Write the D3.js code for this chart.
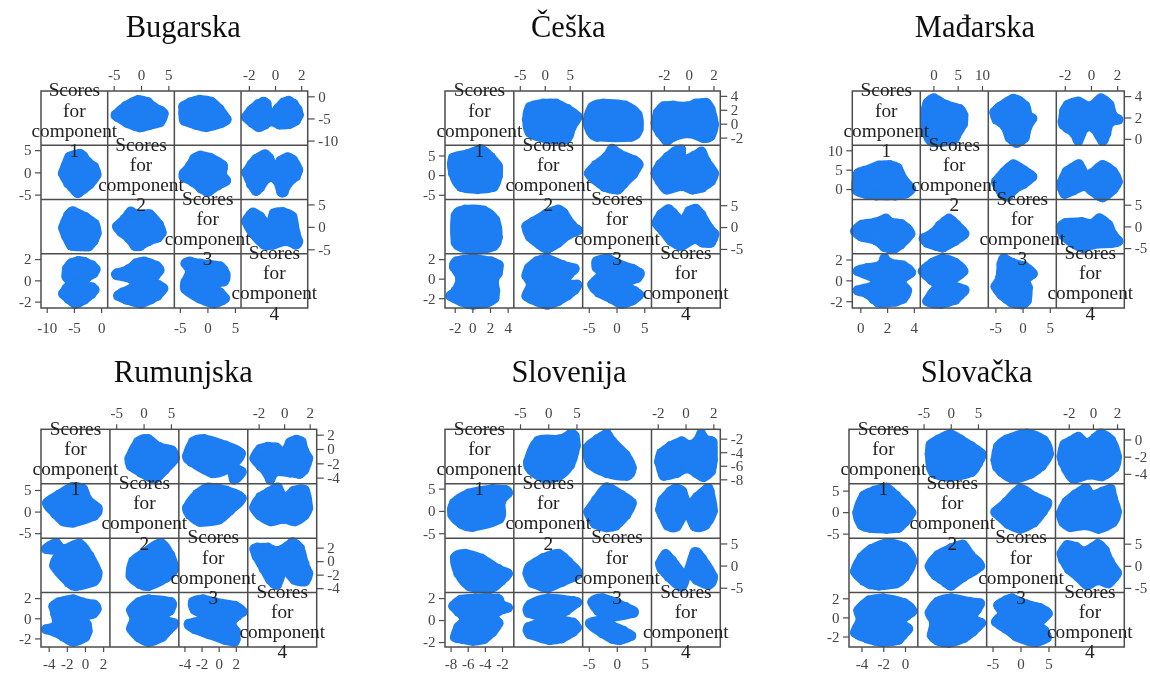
<!DOCTYPE html>
<html><head><meta charset="utf-8">
<script src="https://cdn.jsdelivr.net/npm/d3@7"></script>
<style>html,body{margin:0;padding:0;background:#fff}svg{display:block}</style>
</head><body><div id="chart"></div>
<script>
const titles = ["Bugarska","Češka","Mađarska","Rumunjska","Slovenija","Slovačka"];
const labelLines = ["Scores","for","component"];
const components = [1,2,3,4];

// Component ranges and tick labels per country
const bugarskaDomains = [[-11.05,1.2],[-6.1,6.1],[-6,6.1],[-2.6,2.5]];
const ceskaDomains = [[-3.1,4.7],[-6.2,7.6],[-6.1,6.3],[-3,2.55]];
const madarskaDomains = [[-0.6,4.48],[-2.7,11.3],[-6.3,6.2],[-2.65,2.55]];
const rumunjskaDomains = [[-4.85,2.75],[-6.15,6.45],[-4.65,3.4],[-2.85,2.55]];
const slovenijaDomains = [[-8.65,-0.62],[-6.1,6.1],[-6.1,6.2],[-2.45,2.5]];
const slovackaDomains = [[-5.15,1.18],[-6.05,6.6],[-6.05,6.25],[-3.1,2.6]];

const bugarskaTicks = [[-10,-5,0],[-5,0,5],[-5,0,5],[-2,0,2]];
const ceskaTicks = [[-2,0,2,4],[-5,0,5],[-5,0,5],[-2,0,2]];
const madarskaTicks = [[0,2,4],[0,5,10],[-5,0,5],[-2,0,2]];
const rumunjskaTicks = [[-4,-2,0,2],[-5,0,5],[-4,-2,0,2],[-2,0,2]];
const slovenijaTicks = [[-8,-6,-4,-2],[-5,0,5],[-5,0,5],[-2,0,2]];
const slovackaTicks = [[-4,-2,0],[-5,0,5],[-5,0,5],[-2,0,2]];

// Outline of each score cloud: [later component, earlier component]
const bugarska12 = [[-4.64,-4.17],[-2.74,-2.12],[-0.54,-0.83],[1.25,-1.29],[2.32,-2.42],[3.63,-3.26],[4.17,-3.94],[3.5,-5.83],[1.55,-6.52],[-0.24,-7.05],[-2.5,-6.06],[-4.29,-4.7]];
const bugarska13 = [[-4.4,-2.3],[-3.2,-1.4],[-1.4,-0.8],[0.7,-1.2],[2.2,-2.9],[3.5,-5.2],[2.5,-6.1],[-0.2,-7],[-2,-6.5],[-4.2,-5.5],[-4.4,-3.8]];
const bugarska14 = [[-2.22,-4.7],[-1.83,-3.1],[-1.31,-1.8],[-0.89,-1.2],[-0.64,-1.7],[-0.57,-2.9],[-0.27,-4.5],[0.22,-2.7],[0.64,-1.4],[1.04,-1],[1.43,-1.7],[1.73,-3],[1.83,-4.2],[1.6,-5.5],[1.09,-6.3],[0.35,-6.4],[-0.27,-5.7],[-0.77,-6.4],[-1.26,-7],[-1.75,-6]];
const bugarska23 = [[-4.3,-0.2],[-3.2,1.4],[-2.4,3.1],[-1.3,3.8],[0.5,3.3],[2.8,1.6],[2.7,-0.5],[3.4,-1.9],[1.8,-3],[0.1,-4.4],[-1.2,-3.6],[-2.6,-2.2],[-4.3,-1.1]];
const bugarska24 = [[-2.2,0],[-1.8,1.8],[-1.46,3],[-0.77,4.1],[-0.44,3.2],[0,1],[0.42,2.6],[0.96,3.4],[1.38,2.8],[1.78,0.6],[1.6,-0.9],[1.04,-2.3],[0.67,-4.4],[0.47,-4.4],[0.1,-1.7],[-0.57,-1.3],[-1.14,-3.4],[-1.46,-4.2],[-1.83,-2.7],[-2,-1.4]];
const bugarska34 = [[-2.2,1.2],[-1.88,2.7],[-1.68,3.2],[-1.14,2.3],[-0.44,0.2],[-0.1,3],[0.59,3.3],[1.33,2.3],[1.58,-1.3],[1.78,-3.2],[1.58,-4],[0.84,-3.2],[-0.15,-4],[-0.84,-4],[-1.7,-1.5]];

const ceska12 = [[-3.6,0.6],[-3,2.4],[-0.3,2.9],[2.3,2.9],[4.6,2.1],[6.6,1],[5.4,-0.5],[4.4,-2.2],[0.4,-2.2],[-3,-1.3]];
const ceska13 = [[-5.3,0.3],[-4.4,2.4],[-2.3,2.9],[1.6,2.6],[3.8,1.3],[4,-0.8],[2.6,-1.9],[-3.5,-1.9],[-4.7,-1.1]];
const ceska14 = [[-2.68,0.1],[-2.49,1.6],[-2.03,2.5],[-1.25,2.6],[-0.08,2.5],[0.57,2.9],[1.4,3],[1.77,2.1],[2.05,-0.1],[1.77,-1.8],[1.22,-2.1],[0.05,-1.4],[-1.25,-1.9],[-1.77,-2.5],[-2.34,-1.3],[-2.55,-0.6]];
const ceska23 = [[-5,0.5],[-3.7,2.6],[-1.8,4.7],[-0.8,6.7],[0.4,5.5],[3.2,3.8],[4,2.7],[3,0.2],[1.3,-2.2],[0.2,-3.7],[-2.2,-3],[-4,-1.1]];
const ceska24 = [[-2.68,0.5],[-2.31,2.7],[-1.71,4.6],[-1.14,6],[-0.6,6.5],[-0.52,3.9],[0.44,4.9],[1.04,6],[1.4,3.6],[2.05,0.5],[1.79,-1.6],[1.09,-3.2],[0.31,-3.7],[-0.6,-2.8],[-1.77,-3.7],[-2.34,-1.6]];
const ceska34 = [[-2.6,0.9],[-2.23,2.9],[-1.64,4.1],[-1.25,3.2],[-0.52,1.5],[0.05,3.7],[0.57,4.2],[1.01,2.9],[1.66,-0.2],[2.08,-1.6],[1.79,-3.6],[1.14,-3.6],[0.44,-2.8],[-0.6,-4.4],[-1.43,-3.2],[-2.08,-0.9]];

const madarska12 = [[-1.7,2.6],[-1.2,3.4],[0.1,3.8],[2.6,3.2],[5.4,2.8],[6.2,2.2],[6.1,1.4],[4.7,0.3],[3.9,-0.2],[-0.3,-0.3],[-1.3,0.4],[-1.7,1.2]];
const madarska13 = [[-5.2,2.5],[-4.2,3],[-1.7,3.75],[0.5,3.1],[1,2.2],[1.8,1.9],[0.9,1.1],[0.4,0.1],[-1.1,-0.4],[-2.4,0.1],[-3.3,1.2],[-4.8,1.8]];
const madarska14 = [[-2.18,1.6],[-2.06,2.6],[-1.77,3.2],[-0.96,3.5],[-0.22,3.05],[0.2,3.2],[0.76,3.8],[1.42,3.2],[1.67,2.2],[2.11,1.8],[1.45,1.5],[1.18,0.5],[0.88,-0.2],[0.2,1],[-0.47,1],[-0.96,-0.2],[-1.28,0.5],[-1.82,1],[-2.11,1.3]];
const madarska23 = [[-4.9,1.9],[-3.4,4.4],[-1.7,6.4],[0.3,4.8],[1.8,3.2],[0.2,1.3],[-1.5,-0.1],[-2.7,-2],[-3.8,-1.3],[-4.5,0.5]];
const madarska24 = [[-2.26,1.6],[-1.87,4.5],[-1.45,5.4],[-0.91,6.4],[-0.42,3.7],[0.07,4.1],[0.88,6.2],[1.69,4.5],[2.06,1.9],[1.69,-0.2],[0.88,-2.2],[0.02,-0.4],[-0.47,0.7],[-1.33,-0.4],[-2.01,-1.3],[-2.21,0.1]];
const madarska34 = [[-2.31,-0.2],[-1.94,0.8],[-0.71,1],[0.07,0.6],[0.64,1.9],[1.33,0.4],[1.67,-1.8],[2.11,-3.4],[1.57,-3.9],[0.15,-4.2],[-0.59,-5],[-1.4,-3.9],[-2.11,-2.1]];

const rumunjska12 = [[-2.6,-1.3],[-1,1],[0.8,1.4],[2.8,0.3],[5.2,-0.2],[5.7,-1.4],[3.9,-2.9],[2,-4.2],[-0.5,-3.3],[-2.3,-2.4]];
const rumunjska13 = [[-3.7,-1],[-3,1],[-1.7,1.4],[0.8,0.5],[2.6,-0.6],[1.8,-2.4],[2.7,-3.2],[1.8,-4.3],[1.3,-2.9],[-0.7,-3.4],[-3.2,-1.8]];
const rumunjska14 = [[-2.34,-1.3],[-1.89,0],[-1.29,0.3],[-0.6,0.2],[0,-0.5],[0.45,0.9],[0.94,1.3],[1.37,1],[1.59,-0.3],[1.89,-1.3],[1.59,-2.9],[1.19,-3.5],[0.45,-3.3],[-0.67,-3.2],[-1.09,-4.3],[-1.34,-3.4],[-1.84,-2.4]];
const rumunjska23 = [[-3.7,0.9],[-2.5,4.1],[-1.2,5.6],[0.9,4.9],[2.7,3.1],[1.3,0.2],[0,-1.9],[-2.2,-2.4],[-3.4,-0.7]];
const rumunjska24 = [[-2.36,0.9],[-1.86,3.4],[-1.17,4.6],[-0.5,5.6],[0,3],[0.75,4.8],[1.61,5],[1.89,0.9],[1.59,-0.9],[0.82,-2.3],[-0.05,-1.7],[-1.04,-2.3],[-1.91,-0.9]];
const rumunjska34 = [[-2.34,1.8],[-2.09,2],[-1.29,2],[-0.55,1.5],[0.25,2.2],[0.65,2.8],[1.24,1.9],[1.59,-0.4],[1.89,-1.8],[1.64,-3],[0.82,-2.8],[0,-1.3],[-0.55,-3.5],[-1.09,-2.8],[-1.59,-1.2],[-2.16,0.7]];

const slovenija12 = [[-3.6,-5.4],[-1.8,-2.3],[2,-2.1],[4,-1.3],[4.7,-1.6],[4.9,-3.1],[3.9,-5.9],[1.8,-7.6],[-0.9,-7.8],[-3,-6.7]];
const slovenija13 = [[-5.3,-3.4],[-3.5,-2.1],[-1.8,-1.3],[-0.8,-2.4],[1.6,-4.4],[2.7,-6.3],[1.8,-7.5],[-1.8,-7.1],[-4.7,-5.8]];
const slovenija14 = [[-1.91,-5.4],[-1.74,-4.1],[-1.09,-3.1],[-0.28,-2.4],[0.19,-2.9],[0.81,-2.4],[1.12,-1.3],[1.47,-2.2],[1.95,-2.5],[1.98,-5.1],[1.84,-6.8],[1.28,-7.7],[0.77,-7.1],[0.07,-6.4],[-0.63,-7.1],[-1.56,-7.5],[-1.74,-6.6]];
const slovenija23 = [[-5.1,-0.1],[-3.7,2.5],[-1.8,5.3],[0.8,3.6],[2.7,1.8],[1.7,-0.9],[-0.2,-3.3],[-1.8,-3.7],[-3.9,-2.9],[-4.7,-1.3]];
const slovenija24 = [[-1.84,0.3],[-1.67,2.4],[-1.09,4.4],[-0.7,5.1],[-0.23,4.4],[0.19,1.3],[0.84,3.2],[1.58,5.1],[1.74,4.4],[1.98,0],[1.42,-3.2],[0.65,-3.5],[0.07,-0.3],[-0.63,-3.5],[-1.28,-3.3],[-1.67,-1]];
const slovenija34 = [[-1.84,0.5],[-1.44,2.6],[-0.98,1.2],[0,-1.9],[0.65,3],[1.19,1.6],[1.98,-2.5],[1.65,-4.4],[0.81,-3.3],[0.19,-1.7],[-0.28,-4.8],[-1.21,-2.6],[-1.72,-0.8]];

const slovacka12 = [[-3.9,-1.7],[-3.7,-0.6],[-2.3,0],[-0.1,0.6],[1.8,0],[3.8,-0.8],[5.7,-1.7],[5,-2.8],[3.8,-3.8],[-0.1,-4.4],[-3,-4],[-3.7,-3.2]];
const slovacka13 = [[-4.5,-2.4],[-4,-0.8],[-2.5,0],[1.1,0.7],[4.2,-0.1],[5.1,-1.7],[3.8,-3.1],[1.9,-4],[-1.3,-4.6],[-3.4,-3.8],[-4.2,-3.2]];
const slovacka14 = [[-2.61,-2],[-2.37,-0.6],[-1.87,-0.2],[-1.2,0.3],[-0.53,-0.4],[0.19,0.2],[0.67,0.7],[1.52,-0.1],[2,-2],[1.79,-3.3],[0.75,-4.3],[-0.27,-4.1],[-1.6,-4.6],[-2.21,-3.5],[-2.48,-2.7]];
const slovacka23 = [[-4.5,0.1],[-2.6,2.3],[-0.1,5.4],[2.5,3.6],[4.8,2.2],[4,0.1],[2.4,-2.4],[-0.1,-3.9],[-2.2,-2.8],[-3.8,-0.9]];
const slovacka24 = [[-2.67,-0.3],[-2.19,2.4],[-1.47,4.1],[-0.59,5.6],[-0.13,4],[0.8,4.8],[1.47,5.4],[1.65,3.4],[2,0.1],[1.65,-2.4],[0.48,-3.9],[-0.53,-3.1],[-1.87,-3.5],[-2.45,-2.4]];
const slovacka34 = [[-2.61,2.8],[-2.13,4.7],[-1.41,4.3],[-0.67,3.3],[0.4,4.9],[0.99,3.5],[1.39,1],[2,-1.5],[1.79,-2.6],[1.28,-4],[0.4,-3.3],[-0.48,-4.4],[-1.2,-2.6],[-2,-0.8],[-2.48,1.4]];

// Table built from the arrays above; pairs are keyed by row/column of the upper triangle
const countries = [
 {domains:bugarskaDomains,ticks:bugarskaTicks,clouds:{"0-1":bugarska12,"0-2":bugarska13,"0-3":bugarska14,"1-2":bugarska23,"1-3":bugarska24,"2-3":bugarska34}},
 {domains:ceskaDomains,ticks:ceskaTicks,clouds:{"0-1":ceska12,"0-2":ceska13,"0-3":ceska14,"1-2":ceska23,"1-3":ceska24,"2-3":ceska34}},
 {domains:madarskaDomains,ticks:madarskaTicks,clouds:{"0-1":madarska12,"0-2":madarska13,"0-3":madarska14,"1-2":madarska23,"1-3":madarska24,"2-3":madarska34}},
 {domains:rumunjskaDomains,ticks:rumunjskaTicks,clouds:{"0-1":rumunjska12,"0-2":rumunjska13,"0-3":rumunjska14,"1-2":rumunjska23,"1-3":rumunjska24,"2-3":rumunjska34}},
 {domains:slovenijaDomains,ticks:slovenijaTicks,clouds:{"0-1":slovenija12,"0-2":slovenija13,"0-3":slovenija14,"1-2":slovenija23,"1-3":slovenija24,"2-3":slovenija34}},
 {domains:slovackaDomains,ticks:slovackaTicks,clouds:{"0-1":slovacka12,"0-2":slovacka13,"0-3":slovacka14,"1-2":slovacka23,"1-3":slovacka24,"2-3":slovacka34}}
];

// Layout (separate from the data): [left, right, top, bottom, title centre, title baseline]
const frames = [
 [41,307.7,91,308,183.3,37],
 [445,720.3,91,308,568.3,37],
 [852.3,1124.3,91,308,975,37],
 [41,316.7,429.3,647,183.3,381.7],
 [445,720.3,429.3,647,569,381.7],
 [849,1124.3,429.3,647,976.7,381.7]
];
const BLUE="#1e7ef2", LINE="#4d4d4d", TICKTXT="#444", TXT="#222", FONT="'Liberation Serif','Times New Roman',serif";

const svg=d3.select("#chart").append("svg").attr("width",1150).attr("height",673)
  .style("background","#fff");
svg.append("defs").append("filter").attr("id","soft")
  .attr("filterUnits","userSpaceOnUse").attr("x",0).attr("y",0).attr("width",1150).attr("height",673)
  .append("feGaussianBlur").attr("stdDeviation",0.45);
const root=svg.append("g").attr("filter","url(#soft)");

countries.forEach((c,ci)=>{
  const [L,R,T,B,tx,ty]=frames[ci];
  const w=(R-L)/4,h=(B-T)/4;
  const g=root.append("g");
  const xs=c.domains.map((d,i)=>d3.scaleLinear().domain(d).range([L+i*w,L+(i+1)*w]));
  const ys=c.domains.map((d,i)=>d3.scaleLinear().domain(d).range([T+(i+1)*h,T+i*h]));

  g.append("text").attr("x",tx).attr("y",ty).attr("text-anchor","middle")
    .attr("font-family",FONT).attr("font-size",30.5).attr("fill","#111").text(titles[ci]);

  // score clouds
  const clouds=[];
  d3.cross(components,components).forEach(([a,b])=>{
    const i=a-1,j=b-1; if(i===j) return;
    const key=i<j?i+"-"+j:j+"-"+i, raw=c.clouds[key];
    // row i, column j: x is component j, y is component i
    const pts=raw.map(p=>i<j?[p[0],p[1]]:[p[1],p[0]]);
    clouds.push({x:xs[j],y:ys[i],pts});
  });
  const gc=g.append("g");
  clouds.forEach(cl=>{
    const line=d3.line().x(p=>cl.x(p[0])).y(p=>cl.y(p[1])).curve(d3.curveCardinalClosed.tension(0));
    gc.append("path").attr("d",line(cl.pts)).attr("fill",BLUE).attr("stroke",BLUE)
      .attr("stroke-width",9).attr("stroke-linejoin","round");
    gc.selectAll(null).data(cl.pts).join("circle")
      .attr("cx",p=>cl.x(p[0])).attr("cy",p=>cl.y(p[1])).attr("r",5).attr("fill",BLUE);
  });

  // grid
  const gl=g.append("g").attr("stroke",LINE).attr("stroke-width",1.5).attr("fill","none");
  gl.append("rect").attr("x",L).attr("y",T).attr("width",R-L).attr("height",B-T);
  [1,2,3].forEach(k=>{
    gl.append("line").attr("x1",L+k*w).attr("x2",L+k*w).attr("y1",T).attr("y2",B);
    gl.append("line").attr("y1",T+k*h).attr("y2",T+k*h).attr("x1",L).attr("x2",R);
  });

  // axes
  const styleAxis=(sel)=>{
    sel.select(".domain").remove();
    sel.selectAll("line").attr("stroke",LINE).attr("stroke-width",1.2);
    sel.selectAll("text").attr("font-family",FONT).attr("font-size",15).attr("fill",TICKTXT);
  };
  const fmt=d=>String(d);
  components.forEach((k,i)=>{
    const t=c.ticks[i];
    const xAxis=(i%2===0?d3.axisBottom:d3.axisTop)(xs[i]).tickValues(t).tickFormat(fmt)
      .tickSize(5).tickPadding(i%2===0?(ci>2?6.8:9):6);
    g.append("g").attr("transform",`translate(0,${i%2===0?B:T})`).call(xAxis).call(styleAxis);
    const yAxis=(i%2===0?d3.axisRight:d3.axisLeft)(ys[i]).tickValues(t).tickFormat(fmt)
      .tickSize(i%2===0?7:6).tickPadding(3.5);
    g.append("g").attr("transform",`translate(${i%2===0?R:L},0)`).call(yAxis).call(styleAxis);
  });

  // diagonal labels
  components.forEach((k,i)=>{
    const lines=[...labelLines,String(k)];
    lines.forEach((s,n)=>{
      g.append("text").attr("x",L+(i+0.5)*w).attr("y",T+i*h+5.3+n*20.2)
        .attr("text-anchor","middle").attr("font-family",FONT).attr("font-size",19.3)
        .attr("fill",TXT).text(s);
    });
  });
});
</script></body></html>
